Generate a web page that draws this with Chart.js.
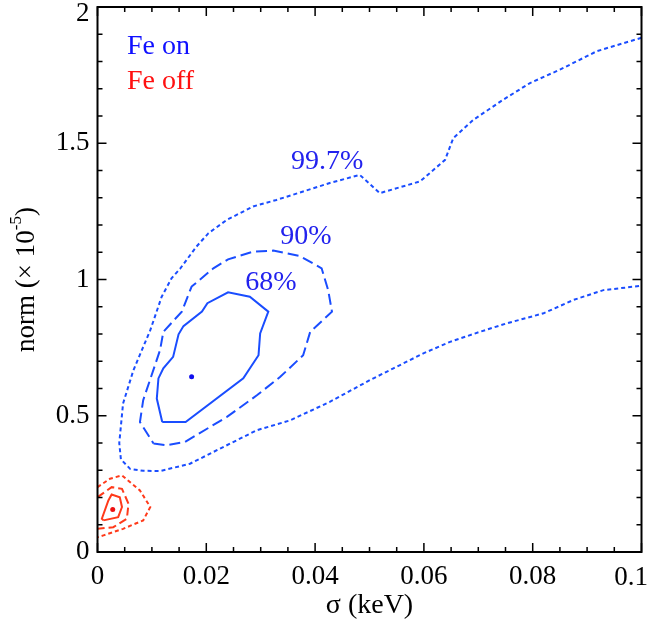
<!DOCTYPE html>
<html>
<head>
<meta charset="utf-8">
<script src="https://cdn.jsdelivr.net/npm/chart.js@4"></script>
<style>
  body { margin: 0; background: #fff; }
  #wrap { width: 649px; height: 622px; }
</style>
</head>
<body>
<div id="wrap"><canvas id="contours" width="649" height="622"></canvas></div>
<script>
// axis ticks
const xTicks = [0, 0.02, 0.04, 0.06, 0.08, 0.1];
const yTicks = [0, 0.5, 1, 1.5, 2];

// Fe on: 99.7% contour (open, runs off the right edge)
const on997x = [0.1, 0.0918, 0.085, 0.0795, 0.0746, 0.0691, 0.0654, 0.0639, 0.0593, 0.0519, 0.0482,
  0.0427, 0.0378, 0.0329, 0.0286, 0.0238, 0.0204, 0.0182, 0.0152, 0.0136, 0.0118, 0.0097, 0.0066,
  0.0047, 0.0040, 0.0043, 0.0060, 0.0084, 0.0115, 0.017, 0.0231, 0.0293, 0.0354, 0.0427, 0.0501,
  0.0544, 0.0599, 0.0648, 0.0703, 0.0752, 0.082, 0.0875, 0.093, 0.1];
const on997y = [1.887, 1.838, 1.77, 1.721, 1.66, 1.586, 1.519, 1.439, 1.36, 1.317, 1.384,
  1.354, 1.323, 1.292, 1.268, 1.219, 1.170, 1.121, 1.04, 1.004, 0.937, 0.814, 0.667,
  0.545, 0.40, 0.34, 0.305, 0.298, 0.297, 0.324, 0.385, 0.447, 0.483, 0.551, 0.631,
  0.674, 0.729, 0.771, 0.808, 0.839, 0.876, 0.925, 0.961, 0.977];

// Fe on: 90% contour
const on90x = [0.0103, 0.0127, 0.0161, 0.0238, 0.0293, 0.0336, 0.0378, 0.0391, 0.0431, 0.0424,
  0.0412, 0.0372, 0.0323, 0.0286, 0.0240, 0.0213, 0.0173, 0.0155, 0.0121, 0.0115, 0.0084, 0.0078, 0.0103];
const on90y = [0.398, 0.392, 0.404, 0.496, 0.575, 0.643, 0.722, 0.808, 0.882, 0.961,
  1.041, 1.086, 1.106, 1.102, 1.074, 1.041, 0.974, 0.882, 0.808, 0.741, 0.557, 0.477, 0.398];

// Fe on: 68% contour
const on68x = [0.0119, 0.0162, 0.0268, 0.0296, 0.0299, 0.0314, 0.0280, 0.0240, 0.0202, 0.0192,
  0.0158, 0.0149, 0.0139, 0.0121, 0.0112, 0.0109, 0.0119];
const on68y = [0.477, 0.477, 0.637, 0.722, 0.802, 0.882, 0.937, 0.953, 0.913, 0.882,
  0.829, 0.799, 0.716, 0.674, 0.637, 0.563, 0.477];

// Fe off contours
const off997x = [0, 0.0023, 0.0045, 0.0078, 0.0097, 0.0084, 0.0047, 0.0011, 0];
const off997y = [0.238, 0.269, 0.281, 0.226, 0.165, 0.116, 0.085, 0.061, 0.054];
const off90x = [0, 0.0026, 0.0045, 0.0057, 0.0054, 0.0029, 0];
const off90y = [0.201, 0.238, 0.232, 0.177, 0.122, 0.091, 0.085];
const off68x = [0.0011, 0.0008, 0.0020, 0.0026, 0.0041, 0.0045, 0.0038, 0.0011];
const off68y = [0.116, 0.122, 0.189, 0.211, 0.201, 0.165, 0.128, 0.116];

// best-fit points
const bestOn = [0.0173, 0.643];
const bestOff = [0.0028, 0.156];

// contour labels
const levelNames = ['99.7%', '90%', '68%'];
const levelX = [0.0422, 0.0383, 0.0319];
const levelY = [1.432, 1.156, 0.987];

const blue = '#1a4dff';
const red = '#ff3a1a';
const serif = '"Liberation Serif", "DejaVu Serif", serif';

function pts(xs, ys) {
  return xs.map((x, i) => ({ x: x, y: ys[i] }));
}

function contour(label, xs, ys, color, dash) {
  return {
    label: label,
    data: pts(xs, ys),
    showLine: true,
    borderColor: color,
    borderWidth: 2,
    borderDash: dash,
    pointRadius: 0,
    tension: 0,
    fill: false
  };
}

function noPad(s) {
  s.paddingLeft = 0; s.paddingRight = 0; s.paddingTop = 0; s.paddingBottom = 0;
}

const xLast = xTicks[xTicks.length - 1];
const yLast = yTicks[yTicks.length - 1];

const frame = {
  id: 'frame',
  afterDatasetsDraw(chart) {
    const { ctx, chartArea: a, scales } = chart;
    const xs = scales.x, ys = scales.y;
    ctx.save();
    ctx.strokeStyle = '#000';
    ctx.lineWidth = 2;
    ctx.strokeRect(a.left, a.top, a.right - a.left, a.bottom - a.top);
    ctx.lineWidth = 1.5;
    ctx.beginPath();
    for (let i = 0; i <= 20; i++) {
      const v = i * 0.005;
      const px = xs.getPixelForValue(v);
      const len = i % 4 === 0 ? 9 : 5;
      ctx.moveTo(px, a.bottom); ctx.lineTo(px, a.bottom - len);
      ctx.moveTo(px, a.top); ctx.lineTo(px, a.top + len);
    }
    for (let i = 0; i <= 20; i++) {
      const v = i * 0.1;
      const py = ys.getPixelForValue(v);
      const len = i % 5 === 0 ? 9 : 5;
      ctx.moveTo(a.left, py); ctx.lineTo(a.left + len, py);
      ctx.moveTo(a.right, py); ctx.lineTo(a.right - len, py);
    }
    ctx.stroke();

    // end tick labels, nudged inside the canvas like the original
    ctx.fillStyle = '#000';
    ctx.font = '27px ' + serif;
    ctx.textAlign = 'right';
    ctx.textBaseline = 'alphabetic';
    ctx.fillText(String(xLast), 648, a.bottom + 33);
    ctx.fillText(String(yLast), a.left - 8, 21);

    // contour level labels
    ctx.fillStyle = '#2222ee';
    ctx.font = '28px ' + serif;
    ctx.textAlign = 'center';
    ctx.textBaseline = 'middle';
    levelNames.forEach((t, i) => {
      ctx.fillText(t, xs.getPixelForValue(levelX[i]), ys.getPixelForValue(levelY[i]));
    });

    // legend text
    ctx.textAlign = 'left';
    ctx.font = '28px ' + serif;
    ctx.fillStyle = '#1010ff';
    ctx.fillText('Fe on', 127, 47);
    ctx.fillStyle = '#ff1010';
    ctx.fillText('Fe off', 127, 82);

    // y axis title with superscript exponent
    ctx.fillStyle = '#000';
    ctx.translate(27, (a.top + a.bottom) / 2);
    ctx.rotate(-Math.PI / 2);
    const main = 'norm (× 10';
    ctx.font = '27px ' + serif;
    const w1 = ctx.measureText(main).width;
    ctx.font = '17px ' + serif;
    const w2 = ctx.measureText('-5').width;
    ctx.font = '27px ' + serif;
    const w3 = ctx.measureText(')').width;
    let x0 = -(w1 + w2 + w3) / 2;
    ctx.textAlign = 'left';
    ctx.fillText(main, x0, 0);
    ctx.font = '17px ' + serif;
    ctx.fillText('-5', x0 + w1, -10);
    ctx.font = '27px ' + serif;
    ctx.fillText(')', x0 + w1 + w2, 0);
    ctx.restore();
  }
};

new Chart(document.getElementById('contours').getContext('2d'), {
  type: 'scatter',
  data: {
    datasets: [
      contour('on 99.7%', on997x, on997y, blue, [4, 3]),
      contour('on 90%', on90x, on90y, blue, [11, 5]),
      contour('on 68%', on68x, on68y, blue, []),
      contour('off 99.7%', off997x, off997y, red, [4, 3]),
      contour('off 90%', off90x, off90y, red, [8, 4]),
      contour('off 68%', off68x, off68y, red, []),
      { label: 'best on', data: [{ x: bestOn[0], y: bestOn[1] }], pointRadius: 2.5,
        backgroundColor: '#1010ee', borderWidth: 0 },
      { label: 'best off', data: [{ x: bestOff[0], y: bestOff[1] }], pointRadius: 2.5,
        backgroundColor: '#ee1010', borderWidth: 0 }
    ]
  },
  options: {
    responsive: false,
    animation: false,
    layout: { padding: { top: 7, right: 7.5, left: 0, bottom: 0 } },
    plugins: { legend: { display: false }, tooltip: { enabled: false } },
    scales: {
      x: {
        type: 'linear', min: 0, max: 0.1,
        afterBuildTicks: (s) => { s.ticks = xTicks.map(v => ({ value: v })); },
        afterFit: (s) => { s.height = 70; noPad(s); },
        grid: { display: false, drawTicks: false },
        border: { display: false },
        ticks: {
          color: '#000', padding: 9, maxRotation: 0,
          font: { family: serif, size: 27 },
          callback: (v) => (v === xLast ? '' : String(v))
        },
        title: { display: true, text: 'σ (keV)', color: '#000',
          font: { family: serif, size: 28 }, padding: { top: 0, bottom: 0 } }
      },
      y: {
        type: 'linear', min: 0, max: 2,
        afterBuildTicks: (s) => { s.ticks = yTicks.map(v => ({ value: v })); },
        afterFit: (s) => { s.width = 97.5; noPad(s); },
        grid: { display: false, drawTicks: false },
        border: { display: false },
        ticks: {
          color: '#000', padding: 8,
          font: { family: serif, size: 27 },
          callback: (v) => (v === yLast ? '' : String(v))
        }
      }
    }
  },
  plugins: [frame]
});
</script>
</body>
</html>
